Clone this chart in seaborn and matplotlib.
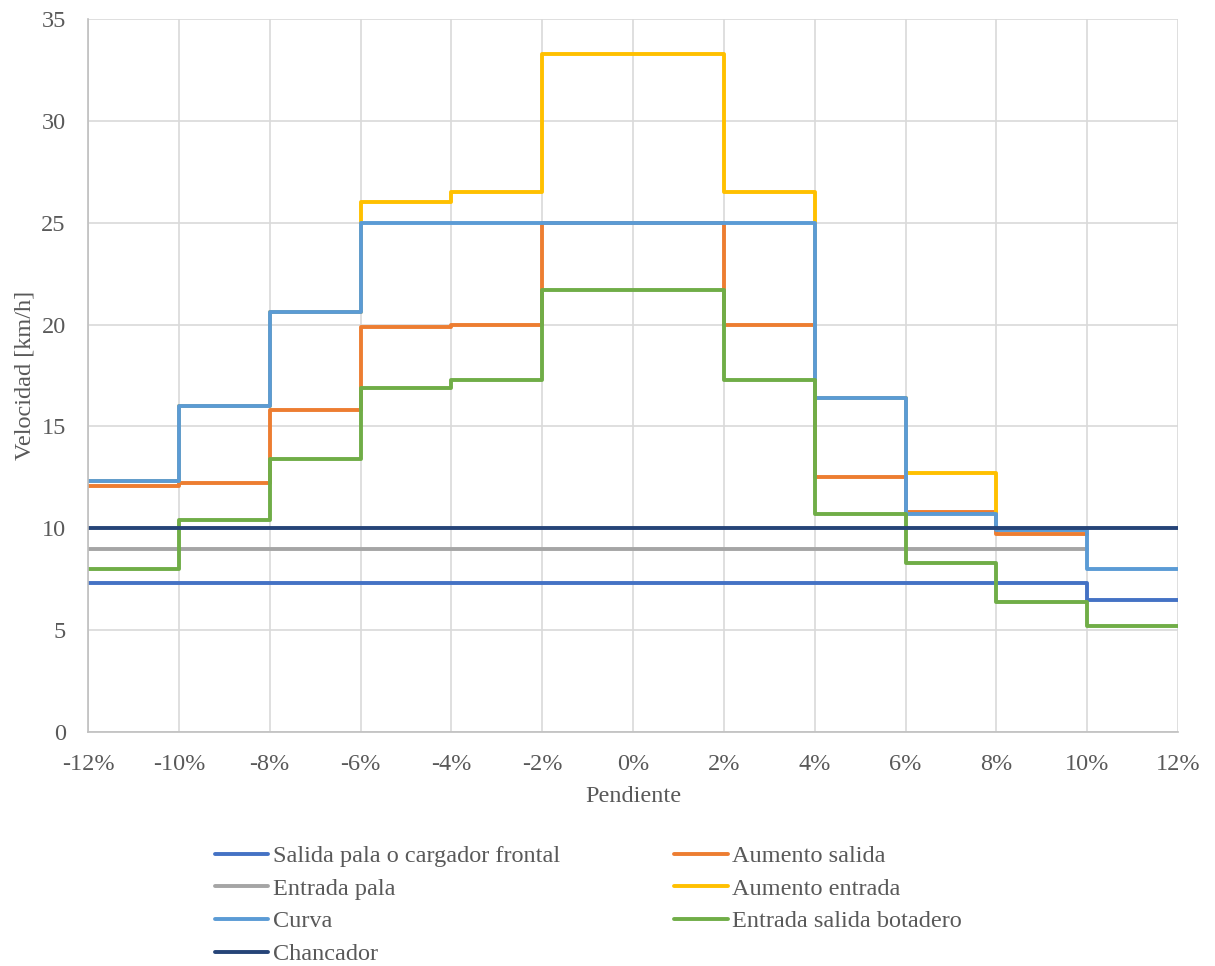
import numpy as np
import pandas as pd
import seaborn as sns
import matplotlib
matplotlib.use("Agg")
import matplotlib.pyplot as plt
from matplotlib.ticker import FuncFormatter, MultipleLocator

# Slope breakpoints (%); each value holds from its breakpoint up to the next one
pendiente = [-12, -10, -8, -6, -4, -2, 0, 2, 4, 6, 8, 10, 12]

salida_pala = [7.3, 7.3, 7.3, 7.3, 7.3, 7.3, 7.3, 7.3, 7.3, 7.3, 7.3, 6.5, 6.5]
aumento_salida = [12.1, 12.2, 15.8, 19.9, 20.0, 25.0, 25.0, 20.0, 12.5, 10.8, 9.7, 9.7, np.nan]
entrada_pala = [9.0, 9.0, 9.0, 9.0, 9.0, 9.0, 9.0, 9.0, 9.0, 9.0, 9.0, 9.0, np.nan]
aumento_entrada = [12.3, 16.0, 20.6, 26.0, 26.5, 33.3, 33.3, 26.5, 16.4, 12.7, 10.8, np.nan, np.nan]
curva = [12.3, 16.0, 20.6, 25.0, 25.0, 25.0, 25.0, 25.0, 16.4, 10.7, 9.9, 8.0, 8.0]
botadero = [8.0, 10.4, 13.4, 16.9, 17.3, 21.7, 21.7, 17.3, 10.7, 8.3, 6.4, 5.2, 5.2]
chancador = [10.0, 10.0, 10.0, 10.0, 10.0, 10.0, 10.0, 10.0, 10.0, 10.0, 10.0, 10.0, 10.0]

series = [
    ("Salida pala o cargador frontal", salida_pala, "#4472C4"),
    ("Aumento salida", aumento_salida, "#ED7D31"),
    ("Entrada pala", entrada_pala, "#A5A5A5"),
    ("Aumento entrada", aumento_entrada, "#FFC000"),
    ("Curva", curva, "#5B9BD5"),
    ("Entrada salida botadero", botadero, "#70AD47"),
    ("Chancador", chancador, "#264478"),
]

sns.set_theme(style="white")
plt.rcParams["font.family"] = ["Liberation Serif", "DejaVu Serif"]

FS = 17.5
fig = plt.figure(figsize=(12.15, 9.66), dpi=100)
ax = fig.add_axes([88 / 1215, 1 - 732 / 966, (1178 - 88) / 1215, (732 - 19) / 966])

text_color = "#595959"
grid_color = "#D9D9D9"

handles = {}
for name, vals, color in series:
    df = pd.DataFrame({"Pendiente": pendiente, "Velocidad": vals}).dropna()
    sns.lineplot(data=df, x="Pendiente", y="Velocidad", ax=ax, color=color,
                 linewidth=2.8, drawstyle="steps-post", estimator=None,
                 sort=False, label=name, legend=False)
    handles[name] = ax.get_lines()[-1]

ax.set_xlim(-12, 12)
ax.set_ylim(0, 35)
ax.xaxis.set_major_locator(MultipleLocator(2))
ax.yaxis.set_major_locator(MultipleLocator(5))
ax.xaxis.set_major_formatter(FuncFormatter(lambda v, p: f"{v:.0f}%"))
ax.yaxis.set_major_formatter(FuncFormatter(lambda v, p: f"{v:.0f}"))

ax.grid(True, color=grid_color, linewidth=1.2)
ax.set_axisbelow(True)
for side in ["top", "right"]:
    ax.spines[side].set_visible(False)
for side in ["left", "bottom"]:
    ax.spines[side].set_color("#BFBFBF")
    ax.spines[side].set_linewidth(1.2)

ax.tick_params(axis="both", length=0, labelsize=FS, labelcolor=text_color)
ax.tick_params(axis="x", pad=16)
ax.tick_params(axis="y", pad=16)

ax.set_xlabel("Pendiente", fontsize=FS, color=text_color)
ax.set_ylabel("Velocidad [km/h]", fontsize=FS, color=text_color)
ax.xaxis.set_label_coords(0.5, -(797 - 732) / 713, transform=ax.transAxes)
ax.yaxis.set_label_coords(-(88 - 25) / 1090, 0.5, transform=ax.transAxes)
ax.xaxis.label.set_va("center")
ax.yaxis.label.set_va("center")

order = ["Salida pala o cargador frontal", "Entrada pala", "Curva", "Chancador",
         "Aumento salida", "Aumento entrada", "Entrada salida botadero"]
leg = fig.legend([handles[n] for n in order], order, ncol=2, frameon=False,
                 loc="upper left", bbox_to_anchor=(215 / 1215, 1 - 845 / 966),
                 borderaxespad=0, borderpad=0, fontsize=FS,
                 handlelength=2.2, handletextpad=0.18, labelspacing=0.44,
                 columnspacing=4.7)
for t in leg.get_texts():
    t.set_color(text_color)

fig.savefig("out.png", dpi=100)
